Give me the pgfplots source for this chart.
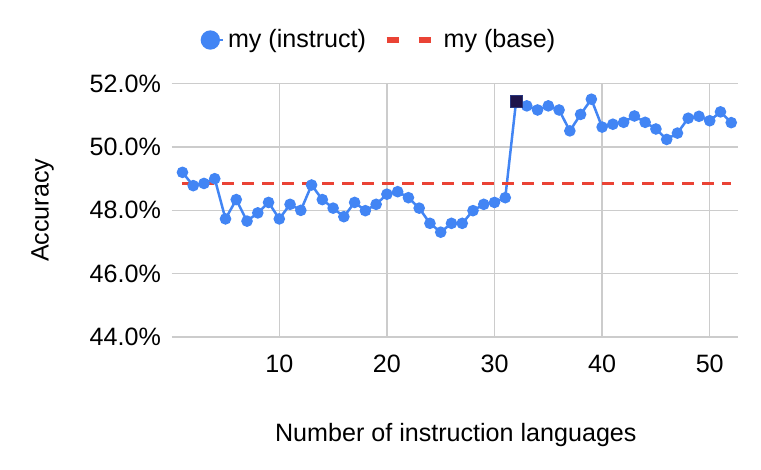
\documentclass[border=0pt]{standalone}
\usepackage{pgfplots}
\pgfplotsset{compat=1.18}
\usepackage{fontspec}
\setmainfont{Liberation Sans}
\definecolor{gblue}{HTML}{4285F4}
\definecolor{gred}{HTML}{EA4335}
\definecolor{gnavy}{RGB}{30,20,75}
\definecolor{ggrid}{HTML}{CCCCCC}
\begin{document}
\fontsize{12.6}{15}\selectfont
\begin{tikzpicture}
\useasboundingbox (-85.85bp,-66.5bp) rectangle (294.65bp,168.5bp);
\begin{axis}[
  at={(0,0)}, anchor=south west,
  scale only axis, width=283bp, height=126.65bp,
  xmin=0, xmax=52.6, ymin=44, ymax=52,
  xtick={10,20,30,40,50}, ytick={44,46,48,50,52},
  grid=major, major grid style={ggrid, line width=0.7bp},
  axis line style={draw=none}, tick style={draw=none},
  /pgf/number format/assume math mode=true,
  yticklabel={\pgfmathprintnumber[fixed,fixed zerofill,precision=1]{\tick}\%},
  xticklabel style={anchor=north, yshift=-4.5bp},
  yticklabel style={anchor=east, xshift=-1bp},
  ylabel={Accuracy},
  ylabel style={at={(axis description cs:-0.228,0.5)}, anchor=center, rotate=0},
  xlabel={Number of instruction languages},
  xlabel style={at={(axis description cs:0.502,-0.385)}, anchor=center},
  legend style={at={(axis description cs:0.368,1.1725)}, anchor=center, draw=none, fill=none,
    legend columns=2, /tikz/every even column/.append style={column sep=6.8bp},
    font=\fontsize{12.6}{15}\selectfont},
  legend cell align=left,
]
\addplot[gblue, line width=1.25bp, mark=*, mark size=2.25bp, mark options={fill=gblue, draw=gblue},
  legend image code/.code={\path (0bp,0bp) -- (10.4bp,0bp); \fill[gblue] (4.2bp,0bp) circle (4.2bp);}]
table {
x y
1 49.20
2 48.78
3 48.85
4 49.00
5 47.73
6 48.34
7 47.66
8 47.92
9 48.25
10 47.73
11 48.19
12 48.00
13 48.80
14 48.34
15 48.07
16 47.80
17 48.25
18 47.99
19 48.19
20 48.51
21 48.59
22 48.40
23 48.07
24 47.59
25 47.31
26 47.59
27 47.59
28 47.99
29 48.19
30 48.25
31 48.40
32 51.43
33 51.30
34 51.17
35 51.30
36 51.17
37 50.51
38 51.03
39 51.51
40 50.63
41 50.72
42 50.78
43 50.98
44 50.78
45 50.57
46 50.24
47 50.44
48 50.91
49 50.97
50 50.83
51 51.11
52 50.77
};
\addlegendentry{my (instruct)}
\addplot[gred, line width=1.5bp, dash pattern=on 6bp off 4bp,
  legend image code/.code={\draw[gred, line width=3bp] (0bp,0bp) -- (9bp,0bp) (16bp,0bp) -- (25bp,0bp);}]
table {
x y
1 48.85
52 48.85
};
\addlegendentry{my (base)}
\addplot[only marks, mark=square*, mark size=3bp, mark options={fill=gnavy, draw=gnavy!70!gblue, line width=0.4bp}, forget plot]
table {
x y
32 51.43
};
\end{axis}
\end{tikzpicture}
\end{document}
